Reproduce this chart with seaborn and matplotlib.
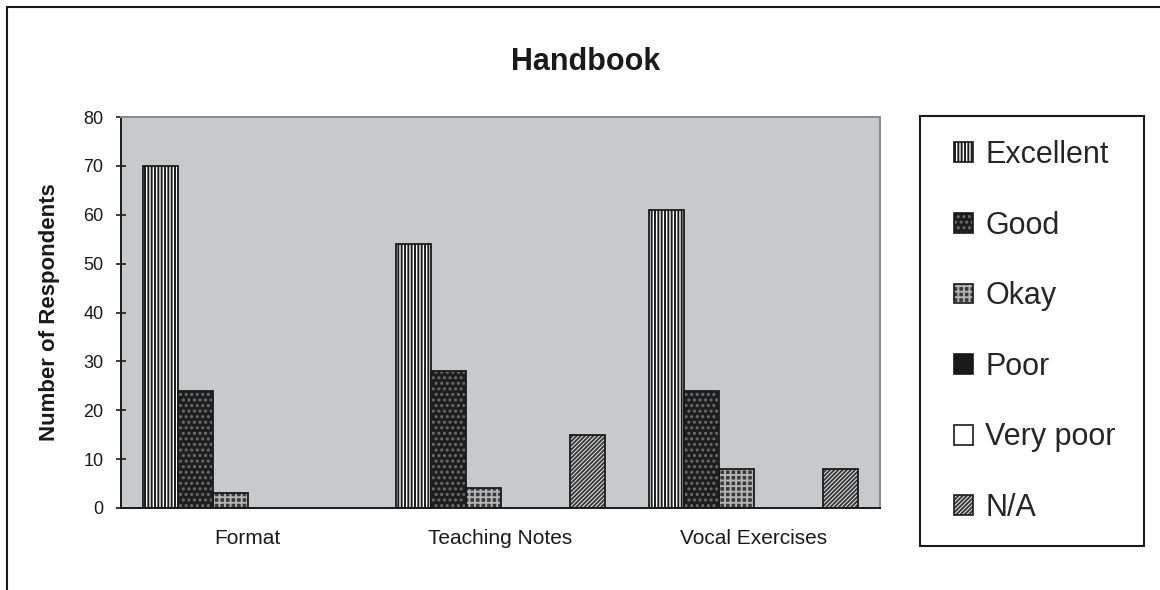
import matplotlib
matplotlib.use("Agg")
import matplotlib.pyplot as plt
from matplotlib.patches import Rectangle, Patch
from matplotlib.lines import Line2D
from matplotlib.legend_handler import HandlerTuple
import pandas as pd
import seaborn as sns

# Survey results: handbook sections rated by respondents
sections = ["Format", "Teaching Notes", "Vocal Exercises"]
ratings = ["Excellent", "Good", "Okay", "Poor", "Very poor", "N/A"]
excellent = [70, 54, 61]
good = [24, 28, 24]
okay = [3, 4, 8]
poor = [0, 0, 0]
very_poor = [0, 0, 0]
not_applicable = [0, 15, 8]
y_ticks = [0, 10, 20, 30, 40, 50, 60, 70, 80]

series = [excellent, good, okay, poor, very_poor, not_applicable]
df = pd.DataFrame(
    [(sec, rat, vals[i]) for rat, vals in zip(ratings, series) for i, sec in enumerate(sections)],
    columns=["section", "rating", "count"],
)

sns.set_style("white")
plt.rcParams["font.family"] = ["Liberation Sans", "DejaVu Sans"]
plt.rcParams["hatch.linewidth"] = 1.4

# fill colour, hatch pattern, hatch colour for each rating
styles = {
    "Excellent": ("white", "|||||", "#1a1a1a"),
    "Good": ("#1e1e1e", "...", "#6e6e6e"),
    "Okay": ("#3a3a3a", "+++", "#b4b4b4"),
    "Poor": ("#1a1a1a", "", "#1a1a1a"),
    "Very poor": ("white", "", "white"),
    "N/A": ("#e8e8e8", "////////", "#3a3a3a"),
}

fig = plt.figure(figsize=(11.6, 5.9), dpi=100)
fig.patch.set_facecolor("white")
ax = fig.add_axes([121 / 1160, 1 - 508 / 590, 759 / 1160, 391 / 590])
ax.set_facecolor("#c8c9cb")

sns.barplot(
    data=df, x="section", y="count", hue="rating",
    order=sections, hue_order=ratings,
    palette=["white"] * len(ratings),
    width=0.83, gap=0, errorbar=None, legend=False, ax=ax,
)

for rating, container in zip(ratings, ax.containers):
    face, hatch, hcol = styles[rating]
    for bar in container:
        bar.set_facecolor(face)
        bar.set_hatch(hatch)
        bar.set_edgecolor(hcol)
        bar.set_linewidth(0)
        if bar.get_height() > 0:
            ax.add_patch(Rectangle(bar.get_xy(), bar.get_width(), bar.get_height(),
                                   fill=False, edgecolor="#1a1a1a", linewidth=1.3,
                                   zorder=bar.get_zorder() + 0.1))

ax.set_ylim(0, 80)
ax.set_xlim(-0.5, 2.5)
ax.set_yticks(y_ticks)
ax.set_xticks(range(len(sections)))
ax.set_xticklabels(sections)
ax.set_xticks([-0.5, 0.5, 1.5, 2.5], minor=True)
ax.tick_params(axis="x", which="major", length=0, pad=15, labelsize=15, colors="#1a1a1a")
ax.tick_params(axis="x", which="minor", direction="inout", length=7.5, width=1.2, color="#1a1a1a")
ax.tick_params(axis="y", direction="inout", length=7.5, width=1.2, pad=9, labelsize=13,
               colors="#1a1a1a", left=True)
ax.set_xlabel("")
ax.set_ylabel("Number of Respondents", fontsize=16, fontweight="bold", color="#1a1a1a")
ax.yaxis.set_label_coords(-0.08, 0.5)

for side in ["left", "bottom"]:
    ax.spines[side].set_color("#1a1a1a")
    ax.spines[side].set_linewidth(1.4)
for side in ["top", "right"]:
    ax.spines[side].set_color("#8a8a8a")
    ax.spines[side].set_linewidth(1.4)

fig.text(586 / 1160, 1 - 62 / 590, "Handbook", fontsize=22, fontweight="bold",
         ha="center", va="center", color="#1a1a1a")

# legend: hatched swatch with a black outline drawn over it
handles = []
for rating in ratings:
    face, hatch, hcol = styles[rating]
    fill = Patch(facecolor=face, hatch=hatch, edgecolor=hcol, linewidth=0)
    outline = Patch(fill=False, edgecolor="#1a1a1a", linewidth=1.2)
    handles.append((fill, outline))

fig.legend(handles, ratings, handler_map={tuple: HandlerTuple(ndivide=1, pad=0)},
           loc="center left", bbox_to_anchor=(954 / 1160, 1 - 331.5 / 590),
           frameon=False, fontsize=22, handlelength=0.62, handleheight=0.62,
           handletextpad=0.4, labelspacing=1.33, borderpad=0, borderaxespad=0)

fig.add_artist(Rectangle((920 / 1160, 1 - 546 / 590), 224 / 1160, 430 / 590,
                         transform=fig.transFigure, fill=False,
                         edgecolor="#1a1a1a", linewidth=1.5))

# page frame around the chart
fig.add_artist(Line2D([7 / 1160, 7 / 1160], [0, 1 - 7 / 590], transform=fig.transFigure,
                      color="#1a1a1a", linewidth=1.5))
fig.add_artist(Line2D([7 / 1160, 1], [1 - 7 / 590, 1 - 7 / 590], transform=fig.transFigure,
                      color="#1a1a1a", linewidth=1.5))

fig.savefig("out.png", dpi=100)
